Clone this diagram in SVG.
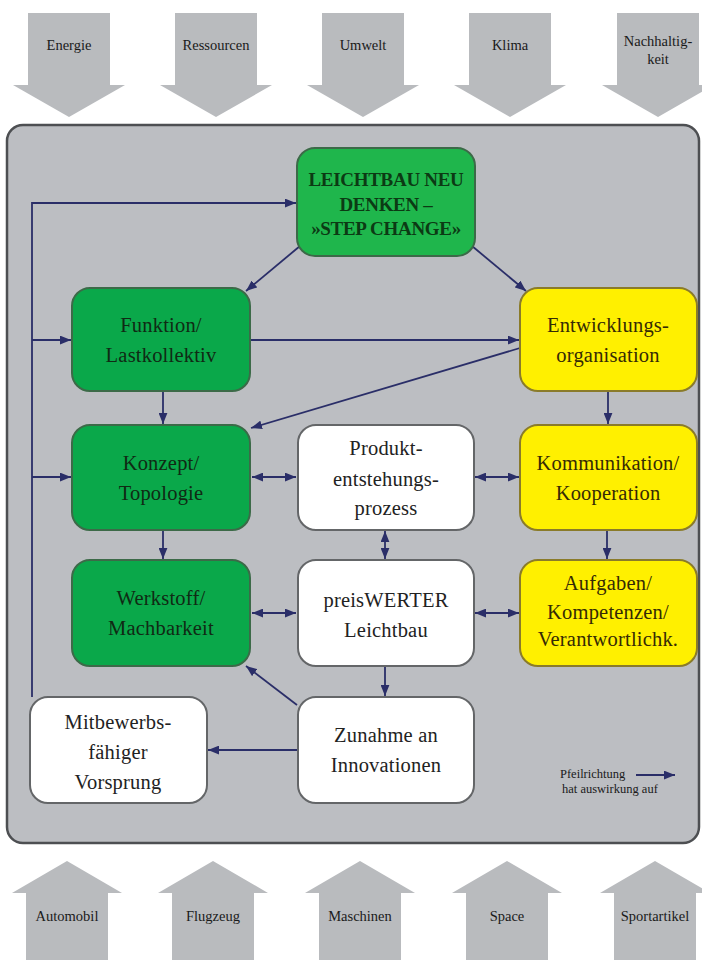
<svg xmlns="http://www.w3.org/2000/svg" width="702" height="960" viewBox="0 0 702 960">
<defs>
<style>
.bg{fill:#ffffff}
.frame{fill:#bcbec2;stroke:#4d4f52;stroke-width:2.5}
.big{fill:#b9bbbe}
.lbl{font-size:14.5px;fill:#1a1a1a;text-anchor:middle}
.gr{fill:#0aa84a;stroke:#3c6a48;stroke-width:2}
.gr2{fill:#1fb64c;stroke:#3c6a48;stroke-width:2}
.ye{fill:#fff000;stroke:#8a7b2a;stroke-width:2}
.wh{fill:#ffffff;stroke:#646668;stroke-width:2}
.t{font-size:20.5px;text-anchor:middle;letter-spacing:0.2px}
.tg{fill:#102a14}
.ty{fill:#352a05}
.tw{fill:#222222}
.tb{font-size:19px;font-weight:bold;text-anchor:middle;fill:#0c3a14;letter-spacing:-0.3px}
.c{fill:none;stroke:#2a2e68;stroke-width:1.8}
.leg{font-size:12.5px;fill:#1a1a1a}
</style>
<marker id="ah" viewBox="0 0 10 8" refX="10" refY="4" markerWidth="11" markerHeight="9" markerUnits="userSpaceOnUse" orient="auto-start-reverse">
<path d="M0,0 L10,4 L0,8 z" fill="#2a2e68"/>
</marker>
</defs>
<rect class="bg" x="0" y="0" width="702" height="960"/>
<g font-family="Liberation Serif, Times New Roman, Noto Serif, DejaVu Serif, serif">
<g id="top-arrows">
<g id="arrow-energie"><path class="big" d="M28,13 H110 V85 H125 L69,117 L13,85 H28 Z"/><text class="lbl" x="69" y="50">Energie</text></g>
<g id="arrow-ressourcen"><path class="big" d="M175,13 H257 V85 H272 L216,117 L160,85 H175 Z"/><text class="lbl" x="216" y="50">Ressourcen</text></g>
<g id="arrow-umwelt"><path class="big" d="M322,13 H404 V85 H419 L363,117 L307,85 H322 Z"/><text class="lbl" x="363" y="50">Umwelt</text></g>
<g id="arrow-klima"><path class="big" d="M469,13 H551 V85 H566 L510,117 L454,85 H469 Z"/><text class="lbl" x="510" y="50">Klima</text></g>
<g id="arrow-nachhaltigkeit"><path class="big" d="M617,13 H699 V85 H714 L658,117 L602,85 H617 Z"/><text class="lbl" x="658" y="46">Nachhaltig-</text><text class="lbl" x="658" y="64">keit</text></g>
</g>

<g id="bottom-arrows">
<g id="arrow-automobil"><path class="big" d="M26,960 V893 H12 L67,861 L122,893 H108 V960 Z"/><text class="lbl" x="67" y="921">Automobil</text></g>
<g id="arrow-flugzeug"><path class="big" d="M172,960 V893 H158 L213,861 L268,893 H254 V960 Z"/><text class="lbl" x="213" y="921">Flugzeug</text></g>
<g id="arrow-maschinen"><path class="big" d="M319,960 V893 H305 L360,861 L415,893 H401 V960 Z"/><text class="lbl" x="360" y="921">Maschinen</text></g>
<g id="arrow-space"><path class="big" d="M466,960 V893 H452 L507,861 L562,893 H548 V960 Z"/><text class="lbl" x="507" y="921">Space</text></g>
<g id="arrow-sportartikel"><path class="big" d="M614,960 V893 H600 L655,861 L710,893 H696 V960 Z"/><text class="lbl" x="655" y="921">Sportartikel</text></g>
</g>

<rect id="frame" class="frame" x="7" y="125" width="692" height="718" rx="16"/>

<g id="connectors">
<path class="c" d="M32,697 V203 H296" marker-end="url(#ah)"/>
<path class="c" d="M32,340 H71" marker-end="url(#ah)"/>
<path class="c" d="M32,477 H71" marker-end="url(#ah)"/>
<path class="c" d="M300,246 L246,291" marker-end="url(#ah)"/>
<path class="c" d="M472,246 L526,291" marker-end="url(#ah)"/>
<path class="c" d="M251,340 H519" marker-end="url(#ah)"/>
<path class="c" d="M520,348 L251,428" marker-end="url(#ah)"/>
<path class="c" d="M163,392 V424" marker-end="url(#ah)"/>
<path class="c" d="M608,392 V424" marker-end="url(#ah)"/>
<path class="c" d="M252,477 H296" marker-start="url(#ah)" marker-end="url(#ah)"/>
<path class="c" d="M475,477 H519" marker-start="url(#ah)" marker-end="url(#ah)"/>
<path class="c" d="M385,531 V559" marker-start="url(#ah)" marker-end="url(#ah)"/>
<path class="c" d="M163,531 V559" marker-end="url(#ah)"/>
<path class="c" d="M607,531 V559" marker-end="url(#ah)"/>
<path class="c" d="M252,613 H296" marker-start="url(#ah)" marker-end="url(#ah)"/>
<path class="c" d="M475,613 H519" marker-start="url(#ah)" marker-end="url(#ah)"/>
<path class="c" d="M385,667 V696" marker-end="url(#ah)"/>
<path class="c" d="M297,705 L246,666" marker-end="url(#ah)"/>
<path class="c" d="M297,750 H208" marker-end="url(#ah)"/>
</g>

<g id="leichtbau-neu-denken">
<rect class="gr2" x="297" y="148" width="178" height="108" rx="18"/>
<text class="tb" x="386" y="186">LEICHTBAU NEU</text>
<text class="tb" x="386" y="211">DENKEN –</text>
<text class="tb" x="386" y="235">»STEP CHANGE»</text>
</g>
<g id="funktion">
<rect class="gr" x="72" y="288" width="178" height="103" rx="18"/>
<text class="t tg" x="161" y="332">Funktion/</text>
<text class="t tg" x="161" y="362">Lastkollektiv</text>
</g>
<g id="entwicklungsorganisation">
<rect class="ye" x="520" y="288" width="177" height="103" rx="18"/>
<text class="t ty" x="608" y="332">Entwicklungs-</text>
<text class="t ty" x="608" y="362">organisation</text>
</g>
<g id="konzept">
<rect class="gr" x="72" y="425" width="178" height="105" rx="18"/>
<text class="t tg" x="161" y="470">Konzept/</text>
<text class="t tg" x="161" y="500">Topologie</text>
</g>
<g id="produktentstehungsprozess">
<rect class="wh" x="298" y="425" width="176" height="105" rx="18"/>
<text class="t tw" x="386" y="455">Produkt-</text>
<text class="t tw" x="386" y="486">entstehungs-</text>
<text class="t tw" x="386" y="515">prozess</text>
</g>
<g id="kommunikation">
<rect class="ye" x="520" y="425" width="177" height="105" rx="18"/>
<text class="t ty" x="608" y="470">Kommunikation/</text>
<text class="t ty" x="608" y="500">Kooperation</text>
</g>
<g id="werkstoff">
<rect class="gr" x="72" y="560" width="178" height="106" rx="18"/>
<text class="t tg" x="161" y="605">Werkstoff/</text>
<text class="t tg" x="161" y="635">Machbarkeit</text>
</g>
<g id="preiswerter-leichtbau">
<rect class="wh" x="298" y="560" width="176" height="106" rx="18"/>
<text class="t tw" x="386" y="607">preisWERTER</text>
<text class="t tw" x="386" y="637">Leichtbau</text>
</g>
<g id="aufgaben">
<rect class="ye" x="520" y="560" width="177" height="106" rx="18"/>
<text class="t ty" x="608" y="590">Aufgaben/</text>
<text class="t ty" x="608" y="619">Kompetenzen/</text>
<text class="t ty" x="608" y="646">Verantwortlichk.</text>
</g>
<g id="mitbewerbsfaehiger-vorsprung">
<rect class="wh" x="30" y="697" width="177" height="106" rx="18"/>
<text class="t tw" x="118" y="729">Mitbewerbs-</text>
<text class="t tw" x="118" y="759">fähiger</text>
<text class="t tw" x="118" y="789">Vorsprung</text>
</g>
<g id="zunahme-an-innovationen">
<rect class="wh" x="298" y="697" width="176" height="106" rx="18"/>
<text class="t tw" x="386" y="742">Zunahme an</text>
<text class="t tw" x="386" y="772">Innovationen</text>
</g>

<g id="legend">
<text class="leg" x="560" y="778">Pfeilrichtung</text>
<text class="leg" x="562" y="793">hat auswirkung auf</text>
<path class="c" d="M636,775 H675" marker-end="url(#ah)"/>
</g>
</g>
</svg>
